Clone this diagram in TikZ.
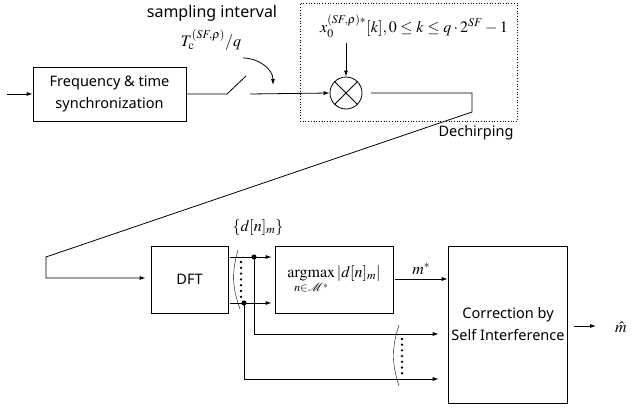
\documentclass[tikz,border=0pt]{standalone}
\usepackage{amsmath,amssymb}
\usepackage{mathptmx}
\usepackage{mathrsfs}
\usepackage{fontspec}
\setmainfont{Liberation Serif}
\setsansfont{Noto Sans}
\usetikzlibrary{arrows.meta}

\begin{document}
\begin{tikzpicture}[x=1pt,y=-1pt,line width=0.8pt,
    >={Latex[length=6pt,width=4pt]},
    every node/.style={font=\fontsize{16}{19}\selectfont},
    blk/.style={draw,align=center,font=\sffamily\fontsize{14.5}{22}\selectfont},
    lbl/.style={font=\sffamily\fontsize{16}{18}\selectfont},
    brace/.style={line width=0.4pt},
    dotbox/.style={draw,dotted,line width=0.7pt}]
  \useasboundingbox (0,0) rectangle (634,412);

  % front end
  \coordinate (in) at (7,94);
  \node[blk,minimum width=153,minimum height=54] (sync) at (109.5,94) {Frequency \& time\\synchronization};
  \draw[->] (in) -- (sync);
  \coordinate (swa) at (227,94);
  \coordinate (swb) at (246,76);
  \coordinate (swc) at (250,94);
  \draw (sync.east) -- (swa) -- (swb);
  \node[lbl] (samp) at (212,13) {sampling interval};
  \node (tc) at (211,40) {$T_{\mathrm{c}}^{(SF,\rho)}/q$};
  \coordinate (cv0) at (243,58);
  \coordinate (cv1) at (273,85);
  \draw[->] (cv0) to[out=0,in=90] (cv1);

  % dechirping
  \node[dotbox,minimum width=217,minimum height=118] (dech) at (408.5,62) {};
  \node[lbl,font=\sffamily\fontsize{14.5}{17}\selectfont] (dechl) at (476,133) {Dechirping};
  \node[circle,draw,minimum size=32,inner sep=0] (mix) at (346,93) {};
  \draw (mix.45) -- (mix.225) (mix.135) -- (mix.315);
  \draw[->] (swc) -- (mix.west);
  \node (ref) at (414,26) {$x_0^{(SF,\rho)*}[k],0 \le k \le q\cdot 2^{SF}-1$};
  \draw[->] (346,43) -- (mix.north);
  \coordinate (m0) at (371,93);
  \coordinate (m1) at (472,93);
  \coordinate (m2) at (472,112);
  \coordinate (m3) at (46,257);
  \coordinate (m4) at (46,278);

  % detection
  \node[blk,minimum width=77,minimum height=67] (dft) at (189.5,279.5) {DFT};
  \draw[->,shorten >=5pt] (m0) -- (m1) -- (m2) -- (m3) -- (m4) -- (m4 -| dft.west);
  \node[draw,minimum width=118,minimum height=67] (amax) at (334,279.5)
    {$\mathop{\mathrm{argmax}}\limits_{n\in\mathscr{M}^*}|d[n]_m|$};
  \node[blk,minimum width=118,minimum height=157] (corr) at (508,324.5) {Correction by\\Self Interference};
  \node (dset) at (258,227) {$\{d[n]_m\}$};

  \coordinate (t0) at (230,257);
  \coordinate (b0) at (230,303);
  \coordinate (tdot) at (254,257);
  \coordinate (bdot) at (244,303);
  \draw[->,shorten >=3pt] (t0) -- (t0 -| amax.west);
  \draw[->,shorten >=3pt] (b0) -- (b0 -| amax.west);
  \fill (tdot) circle (2.6) (bdot) circle (2.6);
  \coordinate (t1) at (254,334);
  \coordinate (b1) at (244,379);
  \draw[->,shorten >=9pt] (tdot) -- (t1) -- (t1 -| corr.west);
  \draw[->,shorten >=9pt] (bdot) -- (b1) -- (b1 -| corr.west);

  % bundle marks
  \draw[brace] (238,250) to[bend right=18] (240,309);
  \foreach \i in {0,...,6}
    \fill (241,262+\i*5.8) circle (1.3);
  \draw[brace] (399,325) to[bend right=18] (399,386);
  \foreach \i in {0,...,6}
    \fill (402,339+\i*5.7) circle (1.3);

  % outputs
  \coordinate (ms) at (395,279);
  \draw[->] (ms) -- (ms -| corr.west) node[midway,above=1pt] {$m^*$};
  \coordinate (o0) at (574,326);
  \coordinate (o1) at (596,326);
  \draw[->] (o0) -- (o1);
  \node (mhat) at (621,327) {$\hat{m}$};
\end{tikzpicture}
\end{document}
